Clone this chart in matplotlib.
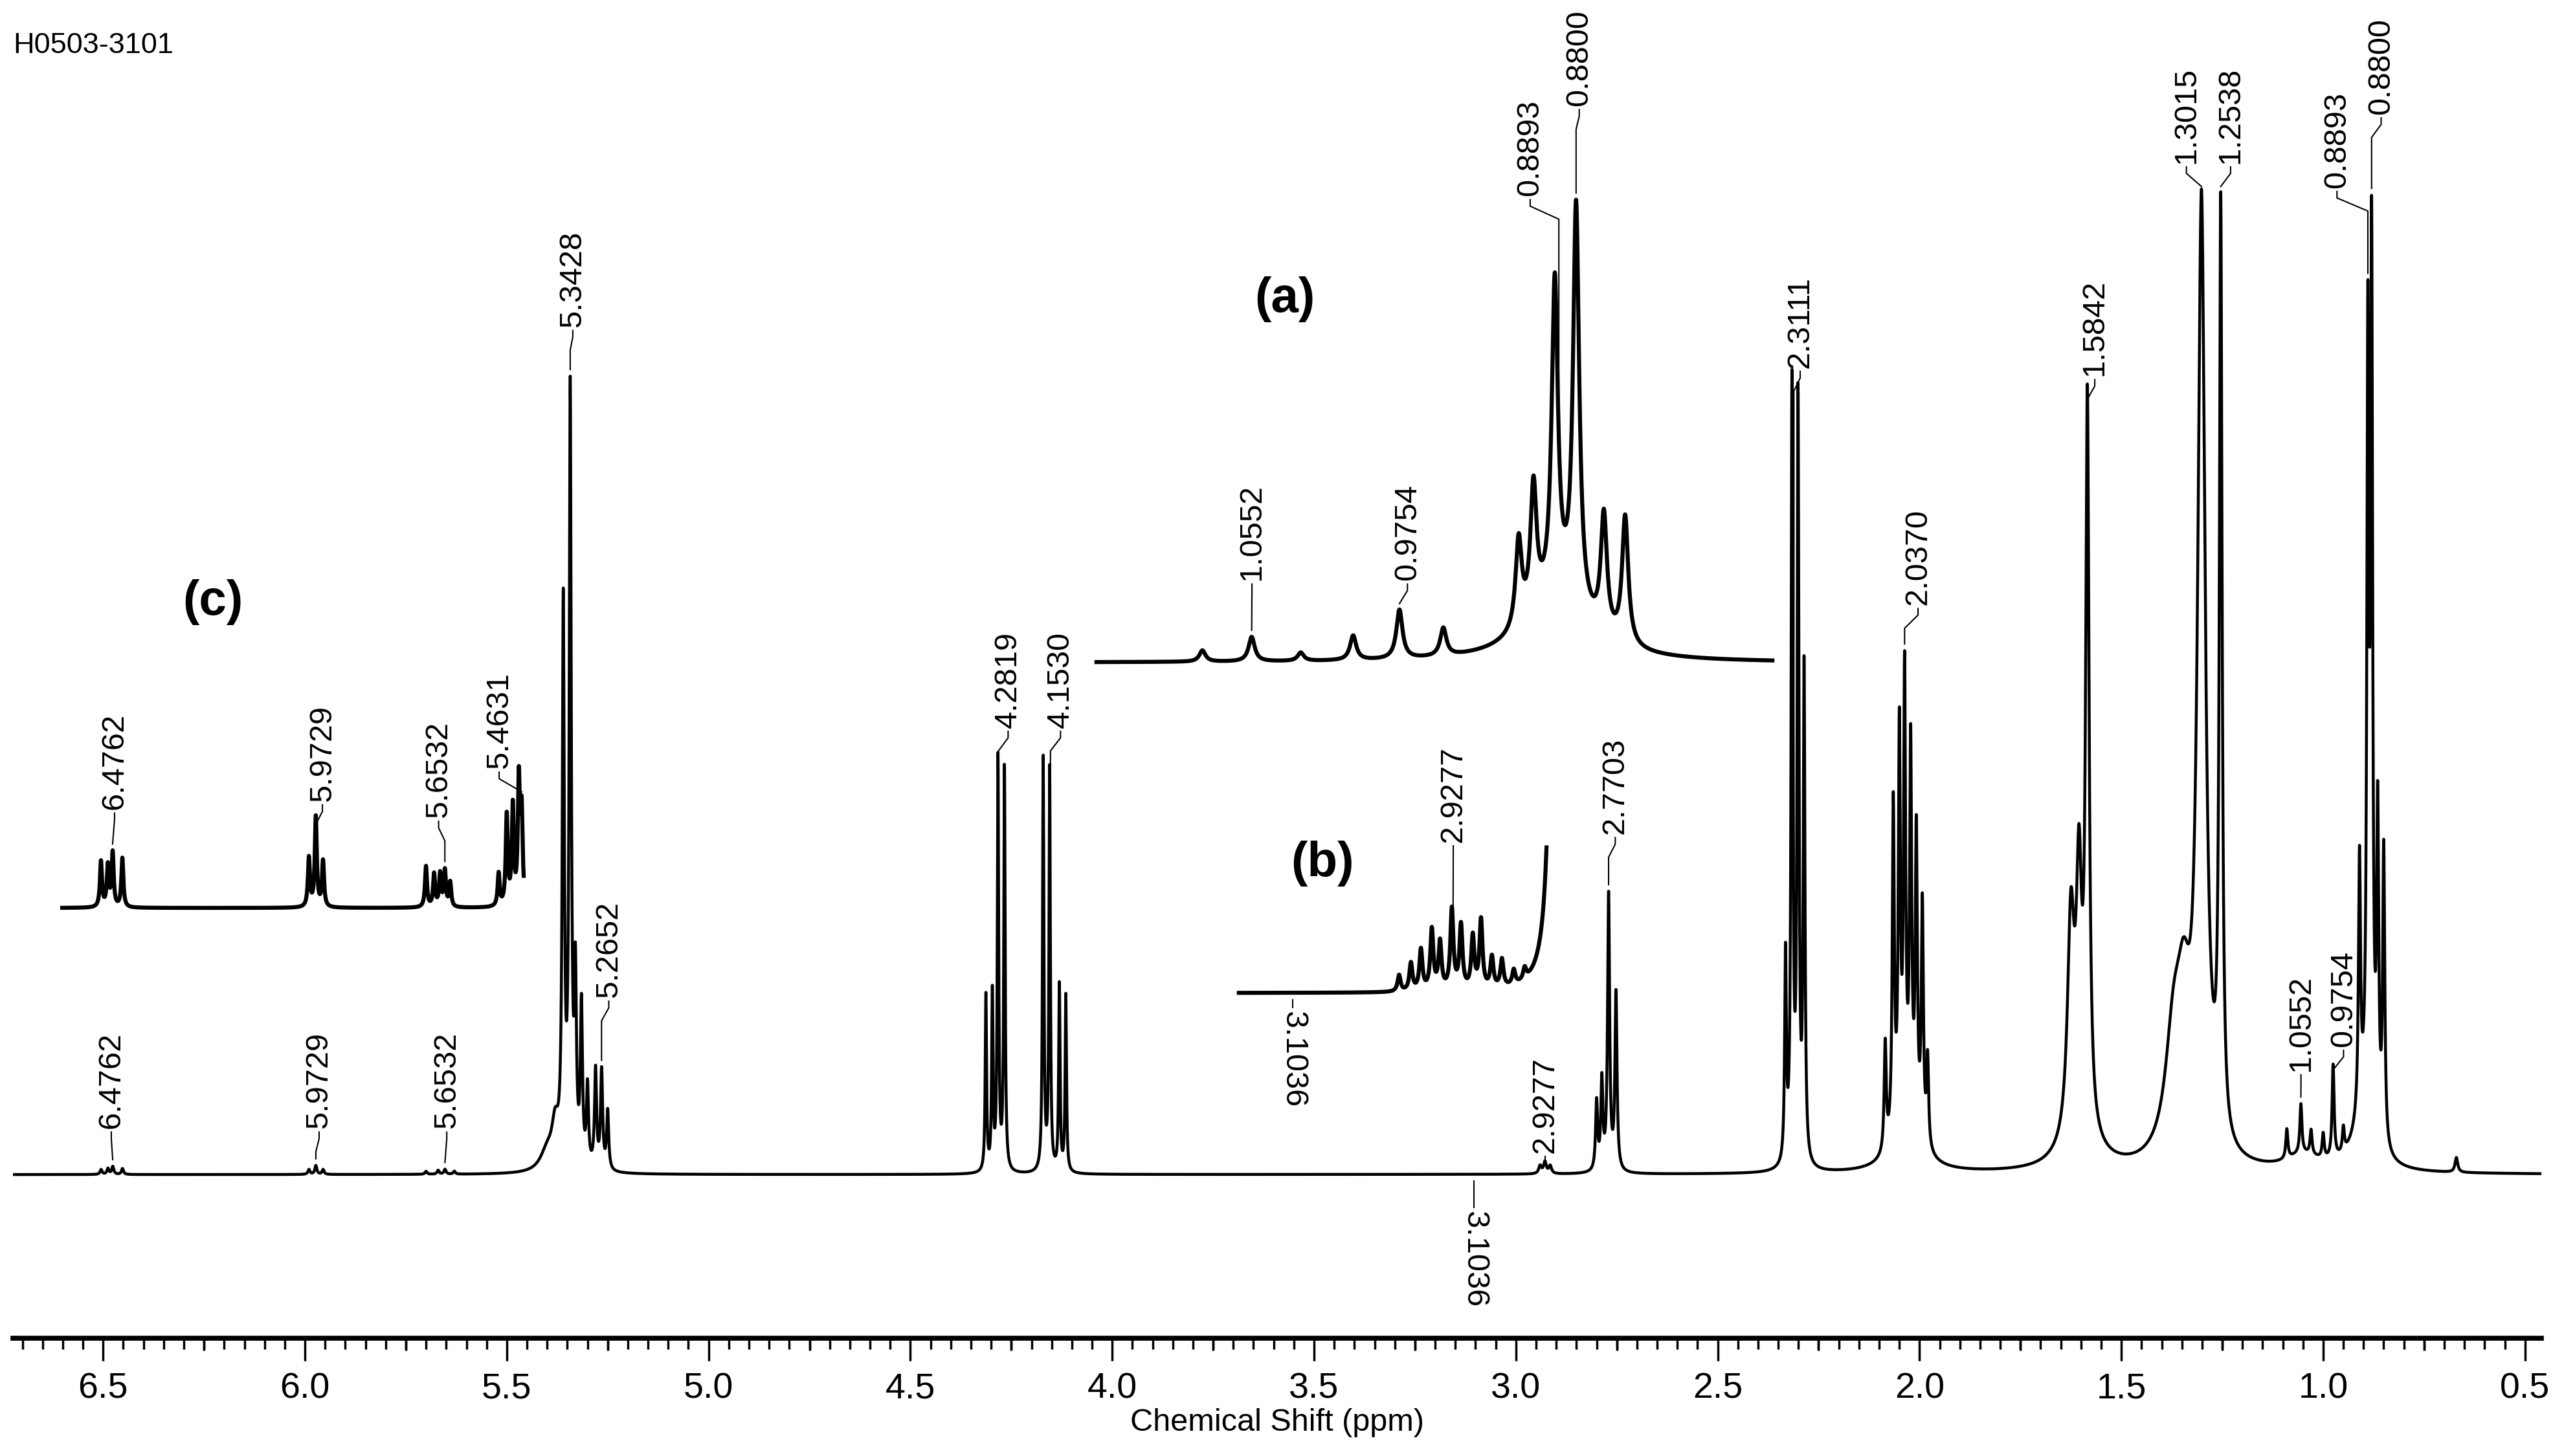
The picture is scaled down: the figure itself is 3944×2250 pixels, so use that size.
import numpy as np
import matplotlib.pyplot as plt
from matplotlib.transforms import Affine2D
from matplotlib.ticker import MultipleLocator

plt.rcParams['font.family'] = ['Liberation Sans', 'DejaVu Sans']

# main spectrum: peak centres (ppm), heights, half widths
main_ppm = [6.505, 6.488, 6.476, 6.452, 5.99, 5.973, 5.955, 5.70, 5.67, 5.653, 5.63,
            5.40, 5.38, 5.36, 5.3428, 5.33, 5.315, 5.30, 5.28, 5.265, 5.25,
            4.313, 4.297, 4.283, 4.267, 4.171, 4.155, 4.131, 4.115,
            2.94, 2.928, 2.915, 2.80, 2.787, 2.7703, 2.752,
            2.332, 2.316, 2.301, 2.286,
            2.03, 2.085, 2.065, 2.050, 2.037, 2.022, 2.008, 1.993, 1.98,
            1.60, 1.625, 1.605, 1.5842,
            1.37, 1.345, 1.3015, 1.2538,
            1.05, 1.09, 1.0552, 1.03, 1.00, 0.9754, 0.95,
            0.90, 0.91, 0.8893, 0.8800, 0.865, 0.85, 0.67]
main_h = [0.5, 0.6, 0.8, 0.6, 0.5, 0.9, 0.5, 0.3, 0.4, 0.5, 0.3,
          2, 4, 56, 78, 18, 16, 8, 10, 10, 6,
          18, 18, 42, 41, 42, 41, 19, 18,
          0.8, 1.2, 0.8, 7, 9, 28, 18,
          21, 79, 77, 50,
          4, 11, 34, 40, 45, 38, 30, 24, 9,
          3, 22, 24, 73,
          12, 12, 96, 94,
          1.5, 3, 5, 2.5, 2.5, 9.5, 2.5,
          5, 26, 77, 87, 32, 30, 1.5]
main_w = [0.003] * 11 + [0.02, 0.01] + [0.003] * 8 + [0.002] * 8 + [0.004] * 3 + [0.003] * 4 \
         + [0.0025] * 4 + [0.04] + [0.003] * 8 + [0.05, 0.01, 0.008, 0.005] \
         + [0.025, 0.02, 0.011, 0.004] + [0.05] + [0.003] * 6 + [0.03] + [0.003] * 5 + [0.004]

# inset (a): 0.8 - 1.1 ppm expanded
a_ppm = [0.89, 1.0818, 1.0552, 1.0287, 1.0004, 0.9754, 0.9517, 0.911, 0.903, 0.8915, 0.880, 0.865, 0.8535]
a_h = [12, 2.3, 5, 1.7, 5, 10, 5.7, 18, 26, 64, 82, 24, 26]
a_w = [0.02] + [0.002] * 12

# inset (b): 2.83 - 3.16 ppm expanded
b_ppm = [2.987, 2.974, 2.963, 2.951, 2.942, 2.929, 2.919, 2.906, 2.897, 2.885, 2.874, 2.861, 2.849, 2.815]
b_h = [10, 17, 25, 37, 29, 49, 39, 32, 42, 19, 17, 9, 7, 650]
b_w = [0.002] * 13 + [0.004]

# inset (c): 5.46 - 6.60 ppm expanded
c_ppm = [6.505, 6.488, 6.476, 6.452, 5.99, 5.9729, 5.955, 5.70, 5.68, 5.665, 5.6532, 5.64,
         5.52, 5.50, 5.485, 5.47, 5.4631]
c_h = [28, 25, 33, 30, 30, 55, 28, 25, 20, 20, 22, 15, 20, 55, 60, 75, 55]
c_w = [0.003] * 17

main_labels = [("6.4762", 68, 690), ("5.9729", 195, 690), ("5.6532", 273, 690),
               ("5.3428", 350, 200), ("5.2652", 372, 610), ("4.2819", 616, 445),
               ("4.1530", 648, 445), ("2.9277", 944, 705), ("2.7703", 987, 510),
               ("2.3111", 1100, 225), ("2.0370", 1172, 370), ("1.5842", 1280, 230),
               ("1.3015", 1336, 100), ("1.2538", 1363, 100), ("1.0552", 1406, 655),
               ("0.9754", 1432, 640), ("0.8893", 1428, 115), ("0.8800", 1455, 70)]
a_labels = [("1.0552", 765, 355), ("0.9754", 860, 355), ("0.8893", 935, 120), ("0.8800", 965, 65)]
b_labels = [("2.9277", 888, 515)]
c_labels = [("6.4762", 70, 495), ("5.9729", 197, 490), ("5.6532", 268, 500), ("5.4631", 305, 470)]


def spectrum(x, ppm, h, w):
    y = np.zeros_like(x)
    for p, a, g in zip(ppm, h, w):
        y += a * g**2 / ((x - p)**2 + g**2)
    return y


fig = plt.figure(figsize=(15.776, 9), dpi=250)
W, H = 1560, 890
ref = Affine2D().scale(1 / W, -1 / H).translate(0, 1) + fig.transFigure


def add_ax(x0, x1, ybase, ytop, xl, yl):
    ax = fig.add_axes([x0 / W, 1 - ybase / H, (x1 - x0) / W, (ybase - ytop) / H])
    ax.set_xlim(*xl)
    ax.set_ylim(*yl)
    return ax


ax = add_ax(8, 1553, 818, 0, (6.723, 0.459), (-16.67, 119.67))
for s in ['top', 'left', 'right']:
    ax.spines[s].set_visible(False)
ax.spines['bottom'].set_linewidth(2.2)
ax.set_yticks([])
ax.xaxis.set_major_locator(MultipleLocator(0.5))
ax.xaxis.set_minor_locator(MultipleLocator(0.05))
ax.tick_params(axis='x', which='major', length=10, width=1, labelsize=16, pad=5)
ax.tick_params(axis='x', which='minor', length=5, width=1)
for t in np.arange(0.75, 6.6, 0.5):
    ax.plot([t, t], [-16.67, -16.67 - 1.25], color='black', lw=1, clip_on=False, solid_capstyle='butt')
ax.set_xticks(ax.get_xticks())
ax.set_xticklabels([f"{t:.1f}" for t in ax.get_xticks()])
ax.set_xlim(6.723, 0.459)
ax.set_xlabel("Chemical Shift (ppm)", fontsize=14, labelpad=1)

xm = np.linspace(6.723, 0.459, 30000)
ym = spectrum(xm, main_ppm, main_h, main_w)
ax.plot(xm, ym, color='black', lw=1.3)

axa = add_ax(670, 1083, 405, 105, (1.139, 0.774), (0, 100))
xa = np.linspace(1.139, 0.774, 6000)
axa.plot(xa, spectrum(xa, a_ppm, a_h, a_w), color='black', lw=1.8, clip_on=False)

axb = add_ax(757, 945, 607, 507, (3.163, 2.825), (0, 100))
xb = np.linspace(3.163, 2.825, 4000)
yb = np.minimum(spectrum(xb, b_ppm, b_h, b_w), 89)
axb.plot(xb, yb, color='black', lw=1.8, clip_on=False)

axc = add_ax(38, 320, 555, 455, (6.601, 5.458), (0, 100))
xc = np.linspace(6.601, 5.458, 6000)
axc.plot(xc, spectrum(xc, c_ppm, c_h, c_w), color='black', lw=1.8, clip_on=False)

for a in (axa, axb, axc):
    a.axis('off')


def to_ref(a, x, y):
    d = a.transData.transform((x, y))
    return ref.inverted().transform(d)


def draw_labels(a, labels, ppm, h, w):
    for txt, tx, tb in labels:
        v = float(txt)
        yv = spectrum(np.array([v]), ppm, h, w)[0]
        if a is axb:
            yv = min(yv, 89)
        px, py = to_ref(a, v, yv)
        ys = [tb + 2, tb + 6]
        xs = [tx, tx]
        if abs(px - tx) > 1.5:
            xs.append(px)
            ys.append(tb + 14)
        xs.append(px)
        ys.append(max(py - 4, ys[-1]))
        fig.add_artist(plt.Line2D(xs, ys, transform=ref, color='black', lw=0.6))
        fig.text(tx, tb, txt, transform=ref, rotation=90, ha='center', va='bottom', fontsize=14)


draw_labels(ax, main_labels, main_ppm, main_h, main_w)
draw_labels(axa, a_labels, a_ppm, a_h, a_w)
draw_labels(axb, b_labels, b_ppm, b_h, b_w)
draw_labels(axc, c_labels, c_ppm, c_h, c_w)

# 3.1036 labels reading downward
for a, tt in ((ax, 740), (axb, 618)):
    px, py = to_ref(a, 3.1036, 0)
    fig.add_artist(plt.Line2D([px, px], [py + 4, tt - 2], transform=ref, color='black', lw=0.6))
    fig.text(px, tt, "3.1036", transform=ref, rotation=-90, ha='center', va='top', fontsize=14)

fig.text(785, 183, "(a)", transform=ref, ha='center', va='center', fontsize=22, fontweight='bold')
fig.text(808, 528, "(b)", transform=ref, ha='center', va='center', fontsize=22, fontweight='bold')
fig.text(130, 368, "(c)", transform=ref, ha='center', va='center', fontsize=22, fontweight='bold')
fig.text(8, 28, "H0503-3101", transform=ref, ha='left', va='center', fontsize=13)

fig.savefig("out.png", dpi=250)
